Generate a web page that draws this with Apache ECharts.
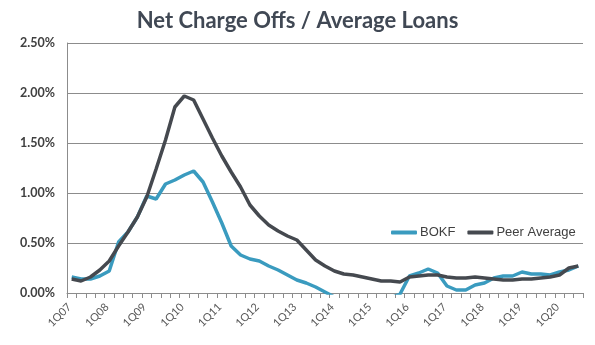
<!DOCTYPE html>
<html><head><meta charset="utf-8">
<script src="https://cdn.jsdelivr.net/npm/echarts@6/dist/echarts.min.js"></script>
<style>html,body{margin:0;padding:0;background:#fff}#c{width:595px;height:345px}</style>
</head><body><div id="c"></div>
<script>
var categories = ["1Q07","2Q07","3Q07","4Q07","1Q08","2Q08","3Q08","4Q08","1Q09","2Q09","3Q09","4Q09",
"1Q10","2Q10","3Q10","4Q10","1Q11","2Q11","3Q11","4Q11","1Q12","2Q12","3Q12","4Q12",
"1Q13","2Q13","3Q13","4Q13","1Q14","2Q14","3Q14","4Q14","1Q15","2Q15","3Q15","4Q15",
"1Q16","2Q16","3Q16","4Q16","1Q17","2Q17","3Q17","4Q17","1Q18","2Q18","3Q18","4Q18",
"1Q19","2Q19","3Q19","4Q19","1Q20","2Q20","3Q20"];
var bokf = [0.16,0.14,0.14,0.17,0.22,0.51,0.61,0.76,0.97,0.94,1.09,1.13,
1.18,1.22,1.11,0.91,0.70,0.47,0.38,0.34,0.32,0.27,0.23,0.18,
0.13,0.10,0.06,0.01,-0.04,-0.06,-0.05,-0.07,-0.06,-0.08,-0.05,-0.01,
0.17,0.20,0.24,0.20,0.07,0.03,0.03,0.08,0.10,0.15,0.17,0.17,
0.21,0.19,0.19,0.18,0.21,0.23,0.27];
var peer = [0.14,0.12,0.16,0.23,0.32,0.47,0.61,0.76,0.96,1.24,1.53,1.86,
1.97,1.93,1.74,1.55,1.37,1.21,1.06,0.88,0.77,0.68,0.62,0.57,
0.53,0.43,0.33,0.27,0.22,0.19,0.18,0.16,0.14,0.12,0.12,0.11,
0.16,0.17,0.18,0.18,0.16,0.15,0.15,0.16,0.15,0.14,0.13,0.13,
0.14,0.14,0.15,0.16,0.18,0.25,0.27];
var seriesNames = ["BOKF","Peer Average"];
var yTicks = [0,0.5,1.0,1.5,2.0,2.5];

var chart = echarts.init(document.getElementById('c'), null, {renderer:'canvas'});
chart.setOption({
  animation:false,
  backgroundColor:'#ffffff',
  title:{text:'Net Charge Offs / Average Loans', left:'center', top:5,
    textStyle:{fontFamily:'Lato', fontWeight:'bold', fontSize:22, color:'#404854'}},
  legend:{left:386, top:221, itemWidth:26, itemHeight:4, itemGap:12, icon:'roundRect',
    textStyle:{fontFamily:'Liberation Sans', fontSize:13, color:'#404040', padding:[0,0,0,-2]},
    data:seriesNames},
  grid:{left:67, right:12, top:43, bottom:52, containLabel:false},
  xAxis:{type:'category', data:categories, boundaryGap:true,
    axisLine:{lineStyle:{color:'#8c8c8c', width:1}},
    axisTick:{show:true, interval:0, length:5, lineStyle:{color:'#8c8c8c'}},
    axisLabel:{interval:3, rotate:45, fontFamily:'Lato', fontSize:11, color:'#595959', margin:10, padding:[0,3,0,0]}},
  yAxis:{type:'value', min:yTicks[0], max:yTicks[yTicks.length-1], interval:0.5,
    axisLine:{show:true, lineStyle:{color:'#8c8c8c'}},
    axisTick:{show:false},
    splitLine:{lineStyle:{color:'#8c8c8c', width:1}},
    axisLabel:{formatter:function(v){return v.toFixed(2)+'%';}, fontFamily:'Lato', fontWeight:'bold', fontSize:12.5, color:'#404040', margin:12}},
  series:[
    {name:seriesNames[0], type:'line', data:bokf, symbol:'none', clip:true,
      lineStyle:{color:'#3a9bbf', width:3.5}, itemStyle:{color:'#3a9bbf'}, z:2},
    {name:seriesNames[1], type:'line', data:peer, symbol:'none', clip:true,
      lineStyle:{color:'#45494f', width:3.5}, itemStyle:{color:'#45494f'}, z:3}
  ]
});
</script></body></html>
